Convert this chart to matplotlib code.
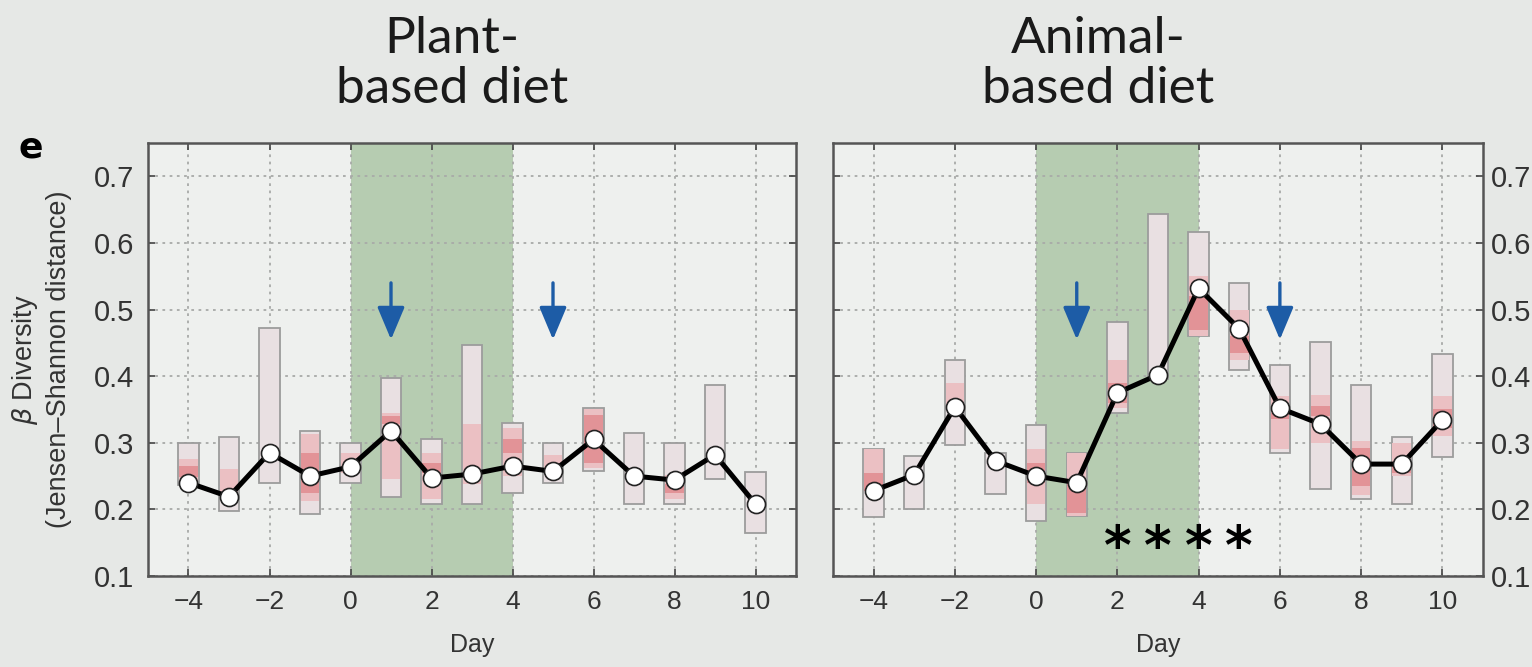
import matplotlib
matplotlib.use("Agg")
import matplotlib.pyplot as plt
import numpy as np

nan = np.nan

days = [-4, -3, -2, -1, 0, 1, 2, 3, 4, 5, 6, 7, 8, 9, 10]
day_ticks = [-4, -2, 0, 2, 4, 6, 8, 10]
y_ticks = [0.1, 0.2, 0.3, 0.4, 0.5, 0.6, 0.7]

# plant-based diet: median, full range, inner (pink) band, core (red) band
plant_median = [0.240, 0.219, 0.285, 0.250, 0.264, 0.318, 0.247, 0.253, 0.265, 0.257, 0.305, 0.250, 0.244, 0.282, 0.208]
plant_hi = [0.300, 0.309, 0.472, 0.318, 0.300, 0.397, 0.305, 0.447, 0.330, 0.300, 0.352, 0.314, 0.300, 0.386, 0.256]
plant_lo = [0.236, 0.198, 0.240, 0.193, 0.239, 0.218, 0.208, 0.208, 0.224, 0.240, 0.258, 0.208, 0.208, 0.245, 0.165]
plant_band_hi = [0.275, 0.260, nan, 0.313, 0.285, 0.345, 0.285, 0.328, 0.322, 0.282, 0.350, nan, 0.252, nan, nan]
plant_band_lo = [0.240, 0.222, nan, 0.212, 0.255, 0.245, 0.215, 0.238, 0.250, 0.255, 0.262, nan, 0.215, nan, nan]
plant_core_hi = [0.265, nan, nan, 0.285, nan, 0.340, 0.270, nan, 0.305, nan, 0.342, nan, 0.238, nan, nan]
plant_core_lo = [0.248, nan, nan, 0.225, nan, 0.328, 0.255, nan, 0.285, nan, 0.270, nan, 0.224, nan, nan]
plant_arrows = [1, 5]

# animal-based diet
animal_median = [0.228, 0.252, 0.354, 0.273, 0.250, 0.240, 0.375, 0.402, 0.532, 0.471, 0.352, 0.328, 0.268, 0.268, 0.334]
animal_hi = [0.291, 0.280, 0.425, 0.285, 0.327, 0.285, 0.482, 0.643, 0.616, 0.540, 0.417, 0.451, 0.386, 0.308, 0.433]
animal_lo = [0.188, 0.200, 0.296, 0.223, 0.183, 0.190, 0.345, 0.395, 0.461, 0.409, 0.284, 0.230, 0.216, 0.208, 0.278]
animal_band_hi = [0.291, nan, 0.390, nan, 0.290, 0.285, 0.425, nan, 0.550, 0.500, 0.370, 0.372, 0.303, 0.300, 0.370]
animal_band_lo = [0.235, nan, 0.355, nan, 0.208, 0.190, 0.352, nan, 0.461, 0.425, 0.290, 0.300, 0.222, 0.250, 0.310]
animal_core_hi = [0.255, nan, nan, nan, 0.270, 0.245, 0.390, nan, 0.520, 0.460, 0.345, 0.355, 0.292, 0.270, 0.350]
animal_core_lo = [0.228, nan, nan, nan, 0.240, 0.195, 0.360, nan, 0.470, 0.435, 0.335, 0.340, 0.235, 0.255, 0.322]
animal_arrows = [1, 6]
animal_stars = [2, 3, 4, 5]

BG = "#e6e8e6"
AX_BG = "#eef0ee"
GREEN = "#b6ccb1"
EDGE = "#9c9c9c"
tick_font = "Liberation Sans"


def draw_panel(ax, median, hi, lo, band_hi, band_lo, core_hi, core_lo, arrows):
    ax.set_facecolor(AX_BG)
    ax.axvspan(0, 4, color=GREEN, zorder=0.5, lw=0)

    x = np.array(days, dtype=float)
    hi, lo = np.array(hi), np.array(lo)
    ax.bar(x, hi - lo, bottom=lo, width=0.5, color="#e9e0e2",
           edgecolor=EDGE, linewidth=1.3, zorder=2)
    for top, bot, col in [(band_hi, band_lo, "#ebc0c3"), (core_hi, core_lo, "#e29397")]:
        top, bot = np.array(top), np.array(bot)
        m = ~np.isnan(top)
        ax.bar(x[m], top[m] - bot[m], bottom=bot[m], width=0.46, color=col,
               linewidth=0, zorder=2.2)

    ax.plot(x, median, color="black", lw=3.6, zorder=3,
            marker="o", markersize=13, markerfacecolor="white",
            markeredgecolor="#222222", markeredgewidth=1.2)

    for d in arrows:
        ax.annotate("", xy=(d, 0.455), xytext=(d, 0.54),
                    arrowprops=dict(arrowstyle="-|>,head_width=0.42,head_length=1.0",
                                    color="#1d5ca6", lw=2.4, mutation_scale=20,
                                    shrinkA=0, shrinkB=0),
                    zorder=4)

    ax.set_xlim(-5, 11)
    ax.set_ylim(0.1, 0.75)
    ax.set_xticks(day_ticks)
    ax.set_yticks(y_ticks)
    ax.set_xticklabels([f"\u2212{abs(d)}" if d < 0 else str(d) for d in day_ticks],
                       fontsize=19, family=tick_font, color="#333333")
    ax.set_yticklabels([f"{v:.1f}" for v in y_ticks], fontsize=21,
                       family=tick_font, color="#333333")
    ax.grid(True, linestyle=(0, (1.5, 2.5)), color="#a8aaa8", lw=1.3)
    ax.tick_params(direction="in", length=5, width=1.2, color="#444444",
                   top=True, right=True, left=True, bottom=True, pad=10)
    for s in ax.spines.values():
        s.set_color("#555555")
        s.set_linewidth(1.8)
    ax.set_xlabel("Day", fontsize=18, family=tick_font, color="#333333", labelpad=14)


fig = plt.figure(figsize=(15.32, 6.67), dpi=100, facecolor=BG)
ax1 = fig.add_axes([148 / 1532, 1 - 576 / 667, 648 / 1532, 433 / 667])
ax2 = fig.add_axes([833 / 1532, 1 - 576 / 667, 650 / 1532, 433 / 667])

draw_panel(ax1, plant_median, plant_hi, plant_lo, plant_band_hi, plant_band_lo,
           plant_core_hi, plant_core_lo, plant_arrows)
draw_panel(ax2, animal_median, animal_hi, animal_lo, animal_band_hi, animal_band_lo,
           animal_core_hi, animal_core_lo, animal_arrows)

ax2.tick_params(axis="y", labelleft=False, labelright=True, pad=6)

for d in animal_stars:
    ax2.text(d, 0.14, "*", ha="center", va="center", fontsize=38, fontweight="bold",
             family="DejaVu Sans", color="black", zorder=5)

ax1.set_ylabel("$\\beta$ Diversity\n(Jensen\u2013Shannon distance)", fontsize=19.5,
               family=tick_font, color="#333333", labelpad=16, linespacing=1.3)

fig.text(452 / 1532, 1 - 103 / 667, "Plant-\nbased diet", ha="center", va="baseline",
         fontsize=37, family="Lato", color="#1a1a1a", linespacing=1.1)
fig.text(1098 / 1532, 1 - 103 / 667, "Animal-\nbased diet", ha="center", va="baseline",
         fontsize=37, family="Lato", color="#1a1a1a", linespacing=1.1)
fig.text(18 / 1532, 1 - 158 / 667, "e", fontsize=26, fontweight="bold",
         family="DejaVu Sans", color="black", va="baseline")

fig.savefig("out.png", dpi=100, facecolor=BG)
